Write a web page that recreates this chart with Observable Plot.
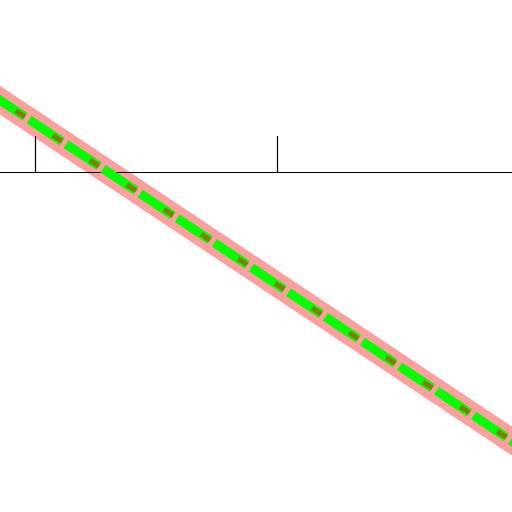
<!DOCTYPE html>
<html>
<head>
<meta charset="utf-8">
<script src="https://cdn.jsdelivr.net/npm/d3@7"></script>
<script src="https://cdn.jsdelivr.net/npm/@observablehq/plot@0.6"></script>
<style>
html, body { margin: 0; padding: 0; background: #fff; overflow: hidden; }
</style>
</head>
<body>
<div id="chart"></div>
<script>
// Line series (two end points)
const lineX = [-2, 20];
const lineY = [2.25, -7.6];
// Axis tick positions
const tickValues = [0, 10];
const baseline = [0];

const lineData = lineX.map((x, i) => ({x, y: lineY[i]}));

const chart = Plot.plot({
  width: 512,
  height: 512,
  margin: 0,
  x: {domain: [0, 10], range: [35, 277], axis: null},
  y: {domain: [0, 1], range: [172, 136], axis: null},
  marks: [
    Plot.ruleX(tickValues, {y1: 0, y2: 1, stroke: "#000", strokeWidth: 1.2}),
    Plot.line(lineData, {x: "x", y: "y", stroke: "red", strokeOpacity: 0.38, strokeWidth: 24, strokeLinecap: "butt", clip: "frame"}),
    Plot.ruleY(baseline, {stroke: "#000", strokeWidth: 1.2}),
    Plot.line(lineData, {x: "x", y: "y", stroke: "#00ff00", strokeWidth: 9, strokeLinecap: "butt", strokeDasharray: "39.5,5", strokeDashoffset: 38.5, clip: "frame"}),
    Plot.line(lineData, {x: "x", y: "y", stroke: "red", strokeOpacity: 0.5, strokeWidth: 5, strokeLinecap: "butt", strokeDasharray: "11,33.5", strokeDashoffset: 10, clip: "frame"})
  ]
});
document.getElementById("chart").appendChild(chart);
</script>
</body>
</html>
